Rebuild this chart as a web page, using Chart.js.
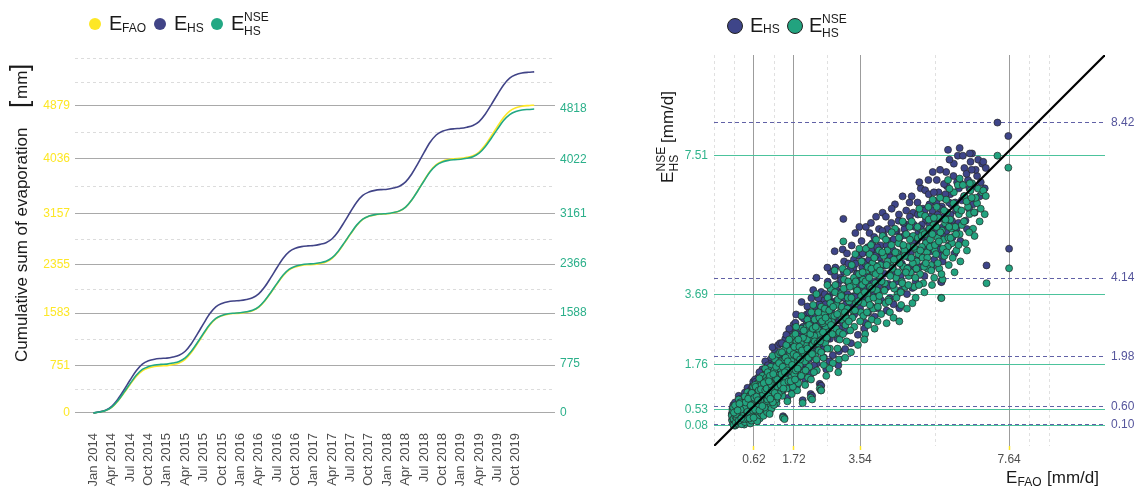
<!DOCTYPE html>
<html>
<head>
<meta charset="utf-8">
<script src="https://cdn.jsdelivr.net/npm/chart.js@4.4.1/dist/chart.umd.min.js"></script>
<style>
  html, body { margin: 0; padding: 0; background: #fff; }
  #fig { position: relative; width: 1141px; height: 489px; overflow: hidden;
         font-family: "Liberation Sans", Arial, sans-serif; color: #1a1a1a; }
  #fig canvas { position: absolute; top: 0; }
  .t { position: absolute; white-space: nowrap; }
  .dot { position: absolute; border-radius: 50%; box-sizing: border-box; }
  .rot { position: absolute; left: 0; top: 0; transform-origin: 0 0; }
</style>
</head>
<body>
<div id="fig">
  <canvas id="cum" width="600" height="489" style="left:0"></canvas>
  <canvas id="sc" width="541" height="489" style="left:600px"></canvas>

  <!-- legend, cumulative panel -->
  <span class="dot" style="left:89px;top:18px;width:12px;height:12px;background:#fde725"></span>
  <span class="t" data-x="109" data-b="30" data-fs="20">E</span>
  <span class="t" data-x="122" data-b="31.7" data-fs="12">FAO</span>
  <span class="dot" style="left:154px;top:18px;width:12px;height:12px;background:#414487"></span>
  <span class="t" data-x="174" data-b="30" data-fs="20">E</span>
  <span class="t" data-x="187" data-b="31.7" data-fs="12">HS</span>
  <span class="dot" style="left:211px;top:18px;width:12px;height:12px;background:#22a884"></span>
  <span class="t" data-x="231" data-b="30" data-fs="20">E</span>
  <span class="t" data-x="244" data-b="20.7" data-fs="12">NSE</span>
  <span class="t" data-x="244" data-b="35" data-fs="12">HS</span>

  <!-- y title, cumulative panel -->
  <div class="rot" style="transform:translate(27px,362px) rotate(-90deg)">
    <span class="t" data-x="0" data-b="0" data-fs="17">Cumulative sum of evaporation</span>
    <span class="t" data-x="254" data-b="1" data-fs="26" style="font-weight:300">[</span>
    <span class="t" data-x="263" data-b="0" data-fs="17">mm</span>
    <span class="t" data-x="291" data-b="1" data-fs="26" style="font-weight:300">]</span>
  </div>

  <!-- legend, scatter panel -->
  <span class="dot" style="left:727px;top:18px;width:16px;height:16px;background:#3e4589;border:1px solid #222"></span>
  <span class="t" data-x="750" data-b="32" data-fs="20">E</span>
  <span class="t" data-x="763" data-b="33.5" data-fs="12">HS</span>
  <span class="dot" style="left:786.5px;top:18px;width:16px;height:16px;background:#22a37f;border:1px solid #222"></span>
  <span class="t" data-x="809" data-b="32" data-fs="20">E</span>
  <span class="t" data-x="822" data-b="23" data-fs="12">NSE</span>
  <span class="t" data-x="822" data-b="37" data-fs="12">HS</span>

  <!-- y title, scatter panel -->
  <div class="rot" style="transform:translate(673px,183px) rotate(-90deg)">
    <span class="t" data-x="0" data-b="0" data-fs="17">E</span>
    <span class="t" data-x="11.5" data-b="-8" data-fs="12">NSE</span>
    <span class="t" data-x="11.5" data-b="5" data-fs="12">HS</span>
    <span class="t" data-x="40" data-b="0" data-fs="17">[mm/d]</span>
  </div>

  <!-- x title, scatter panel -->
  <span class="t" data-x="1006" data-b="483" data-fs="17">E</span>
  <span class="t" data-x="1017.5" data-b="486" data-fs="12">FAO</span>
  <span class="t" data-x="1047" data-b="483" data-fs="17">[mm/d]</span>
</div>

<script>
// ---------- cumulative evaporation [mm], month ends Jan 2014 .. Dec 2019 ----------
const monthIndex = Array.from({ length: 73 }, (_, i) => i);   // months since 1 Jan 2014

const cumFAO = [0,
  15, 38, 90, 188, 315, 451, 578, 668, 713, 736, 746, 751,
  768, 793, 851, 959, 1100, 1250, 1392, 1492, 1541, 1566, 1577, 1583,
  1598, 1622, 1676, 1776, 1907, 2046, 2177, 2270, 2316, 2340, 2350, 2355,
  2371, 2395, 2451, 2556, 2692, 2836, 2973, 3069, 3117, 3141, 3151, 3157,
  3175, 3201, 3262, 3377, 3526, 3684, 3834, 3939, 3992, 4018, 4030, 4036,
  4053, 4078, 4137, 4247, 4390, 4542, 4685, 4786, 4837, 4862, 4873, 4879];

const cumHS = [0,
  17, 44, 104, 218, 365, 522, 670, 774, 827, 853, 864, 870,
  888, 916, 979, 1098, 1253, 1417, 1572, 1682, 1736, 1764, 1776, 1782,
  1799, 1826, 1887, 2000, 2149, 2306, 2454, 2559, 2611, 2637, 2649, 2655,
  2673, 2700, 2762, 2878, 3030, 3190, 3342, 3449, 3502, 3529, 3541, 3547,
  3566, 3595, 3663, 3789, 3953, 4127, 4291, 4407, 4465, 4494, 4506, 4513,
  4531, 4558, 4620, 4737, 4889, 5049, 5201, 5309, 5362, 5389, 5401, 5407];

const cumNSE = [0,
  16, 39, 93, 194, 326, 465, 597, 690, 736, 760, 770, 775,
  791, 816, 873, 978, 1117, 1263, 1401, 1499, 1547, 1572, 1582, 1588,
  1604, 1627, 1681, 1783, 1915, 2055, 2187, 2280, 2327, 2350, 2361, 2366,
  2382, 2406, 2461, 2565, 2700, 2843, 2978, 3074, 3121, 3145, 3155, 3161,
  3178, 3204, 3264, 3376, 3523, 3678, 3824, 3927, 3979, 4005, 4016, 4022,
  4038, 4062, 4118, 4221, 4356, 4500, 4635, 4730, 4778, 4802, 4812, 4818];

// yearly totals shown on the two y axes
const faoYearTicks = [0, 751, 1583, 2355, 3157, 4036, 4879];
const nseYearTicks = [0, 775, 1588, 2366, 3161, 4022, 4818];
const cumMinorBreaks = [375.5, 1167, 1969, 2756, 3596.5, 4457.5, 5254.5, 5630];

const quarterTicks = [0, 3, 6, 9, 12, 15, 18, 21, 24, 27, 30, 33, 36, 39, 42, 45, 48, 51, 54, 57, 60, 63, 66, 69];
const quarterLabels = ['Jan 2014', 'Apr 2014', 'Jul 2014', 'Oct 2014', 'Jan 2015', 'Apr 2015', 'Jul 2015', 'Oct 2015',
  'Jan 2016', 'Apr 2016', 'Jul 2016', 'Oct 2016', 'Jan 2017', 'Apr 2017', 'Jul 2017', 'Oct 2017',
  'Jan 2018', 'Apr 2018', 'Jul 2018', 'Oct 2018', 'Jan 2019', 'Apr 2019', 'Jul 2019', 'Oct 2019'];

// ---------- daily evaporation [mm/d]: FAO reference vs Hargreaves-Samani (raw and NSE-calibrated) ----------
const efao = [
  0.02, 0.05, 0.08, 0.10, 0.12, 0.14, 0.16, 0.18, 0.19, 0.03,
  0.04, 0.07, 0.09, 0.11, 0.13, 0.15, 0.17, 0.18, 0.06, 0.01,
  0.03, 0.06, 0.09, 0.12, 0.14, 0.16, 0.19, 0.08, 0.11, 0.17,
  0.21, 0.23, 0.25, 0.27, 0.29, 0.31, 0.33, 0.35, 0.37, 0.39,
  0.22, 0.24, 0.26, 0.28, 0.30, 0.32, 0.34, 0.36, 0.38, 0.40,
  0.20, 0.25, 0.28, 0.30, 0.33, 0.35, 0.37, 0.24, 0.31, 0.38,
  0.41, 0.43, 0.45, 0.47, 0.50, 0.52, 0.54, 0.56, 0.58, 0.61,
  0.42, 0.44, 0.48, 0.49, 0.51, 0.53, 0.55, 0.57, 0.59, 0.60,
  0.63, 0.66, 0.69, 0.72, 0.75, 0.78, 0.81, 0.84, 0.87, 0.89,
  0.64, 0.67, 0.70, 0.73, 0.76, 0.79, 0.82, 0.85, 0.88, 0.90,
  0.65, 0.68, 0.71, 0.74, 0.77, 0.80, 0.83, 0.86, 0.62, 0.88,
  0.92, 0.96, 1.00, 1.04, 1.08, 1.12, 1.16, 1.20, 1.24, 1.28,
  0.94, 0.98, 1.02, 1.06, 1.10, 1.14, 1.18, 1.22, 1.26, 1.30,
  0.93, 0.97, 1.01, 1.05, 1.09, 1.13, 1.17, 1.21, 1.25, 1.29,
  1.32, 1.36, 1.40, 1.44, 1.48, 1.52, 1.56, 1.60, 1.64, 1.69,
  1.34, 1.38, 1.42, 1.46, 1.50, 1.54, 1.58, 1.62, 1.66, 1.71,
  1.74, 1.79, 1.84, 1.89, 1.94, 1.99, 2.04, 2.09, 2.14, 2.19,
  1.76, 1.81, 1.86, 1.91, 1.96, 2.01, 2.06, 2.11, 2.16, 2.20,
  1.73, 1.78, 1.83, 1.88, 1.93, 1.98, 2.03, 2.08, 2.13, 2.18,
  2.23, 2.29, 2.35, 2.41, 2.47, 2.53, 2.59, 2.65, 2.71, 2.77,
  2.25, 2.31, 2.37, 2.43, 2.49, 2.55, 2.61, 2.67, 2.73, 2.79,
  2.22, 2.28, 2.34, 2.40, 2.46, 2.52, 2.58, 2.64, 2.70, 2.76,
  2.82, 2.89, 2.96, 3.03, 3.10, 3.17, 3.24, 3.31, 3.38, 3.45,
  2.85, 2.92, 2.99, 3.06, 3.13, 3.20, 3.27, 3.34, 3.41, 3.48,
  2.84, 2.94, 3.01, 3.08, 3.15, 3.22, 3.29, 3.36, 3.43, 3.52,
  3.56, 3.62, 3.68, 3.74, 3.80, 3.86, 3.92, 3.98, 4.04, 4.10,
  3.58, 3.64, 3.70, 3.76, 3.82, 3.88, 3.94, 4.00, 4.06, 4.12,
  3.60, 3.66, 3.72, 3.78, 3.84, 3.90, 3.96, 4.02, 4.08, 4.16,
  4.22, 4.29, 4.36, 4.43, 4.50, 4.57, 4.64, 4.71, 4.78, 4.85,
  4.25, 4.32, 4.39, 4.46, 4.53, 4.60, 4.67, 4.74, 4.81, 4.88,
  4.27, 4.34, 4.41, 4.48, 4.55, 4.62, 4.69, 4.76, 4.83, 4.90,
  4.93, 5.00, 5.07, 5.14, 5.21, 5.28, 5.35, 5.42, 5.49, 5.56,
  4.96, 5.03, 5.10, 5.17, 5.24, 5.31, 5.38, 5.45, 5.52, 5.59,
  4.98, 5.05, 5.12, 5.19, 5.26, 5.33, 5.40, 5.47, 5.54, 5.58,
  5.63, 5.70, 5.77, 5.84, 5.91, 5.98, 6.05, 6.12, 6.19, 6.26,
  5.65, 5.72, 5.79, 5.86, 5.93, 6.00, 6.07, 6.14, 6.21, 6.28,
  5.67, 5.74, 5.81, 5.88, 5.95, 6.02, 6.09, 6.16, 6.23, 6.30,
  6.34, 6.41, 6.48, 6.55, 6.62, 6.69, 6.76, 6.83, 6.90, 6.97,
  6.37, 6.44, 6.51, 6.58, 6.65, 6.72, 6.79, 6.86, 6.93, 7.00,
  7.32, 7.62, 7.64, 7.02, 5.78, 6.56, 6.28, 5.96, 2.47, 1.46,
  0.31, 0.34, 0.37, 0.40, 0.43, 0.46, 0.49, 0.52, 0.55, 0.58,
  0.32, 0.36, 0.39, 0.44, 0.46, 0.50, 0.53, 0.56, 0.59, 0.61,
  0.63, 0.67, 0.71, 0.75, 0.79, 0.83, 0.87, 0.91, 0.95, 0.99,
  0.65, 0.69, 0.73, 0.77, 0.81, 0.85, 0.89, 0.93, 0.97, 1.00,
  1.02, 1.06, 1.10, 1.14, 1.18, 1.22, 1.26, 1.30, 1.34, 1.38,
  1.03, 1.07, 1.11, 1.15, 1.19, 1.23, 1.27, 1.31, 1.35, 1.39,
  1.41, 1.45, 1.49, 1.53, 1.57, 1.61, 1.65, 1.69, 1.73, 1.77,
  1.43, 1.47, 1.51, 1.55, 1.59, 1.63, 1.67, 1.71, 1.75, 1.79,
  1.82, 1.87, 1.92, 1.97, 2.02, 2.07, 2.12, 2.17, 2.22, 2.27,
  1.84, 1.89, 1.94, 1.99, 2.04, 2.09, 2.14, 2.19, 2.24, 2.29,
  2.32, 2.37, 2.42, 2.47, 2.52, 2.57, 2.62, 2.67, 2.72, 2.78,
  2.34, 2.39, 2.44, 2.49, 2.54, 2.59, 2.64, 2.69, 2.74, 2.80,
  2.83, 2.88, 2.93, 2.98, 3.04, 3.09, 3.14, 3.19, 3.26, 3.33,
  2.86, 2.91, 2.97, 3.02, 3.07, 3.12, 3.18, 3.23, 3.30, 3.37,
  3.40, 3.46, 3.51, 3.57, 3.63, 3.69, 3.75, 3.81, 3.87, 3.93,
  3.42, 3.49, 3.54, 3.61, 3.67, 3.73, 3.79, 3.85, 3.91, 3.97,
  4.01, 4.07, 4.13, 4.19, 4.24, 4.30, 4.37, 4.44, 4.51, 4.58,
  4.03, 4.09, 4.15, 4.21, 4.27, 4.33, 4.40, 4.47, 4.54, 4.61,
  4.63, 4.70, 4.77, 4.84, 4.91, 4.99, 5.06, 5.13, 5.20, 5.27,
  4.66, 4.73, 4.80, 4.87, 4.95, 5.02, 5.09, 5.16, 5.23, 5.30,
  5.32, 5.39, 5.46, 5.53, 5.60, 5.68, 5.75, 5.82, 5.89, 5.97,
  5.35, 5.43, 5.50, 5.57, 5.64, 5.71, 5.78, 5.85, 5.92, 5.99,
  6.03, 6.11, 6.18, 6.25, 6.33, 6.40, 6.47, 6.54, 6.61, 6.68,
  0.05, 0.10, 0.15, 0.20, 0.25, 0.12, 0.22, 0.27, 0.07, 0.17];

const ehs = [
  0.25, 0.16, 0.39, 0.10, 0.31, 0.50, 0.20, 0.43, 0.28, 0.45,
  0.34, 0.54, 0.22, 0.58, 0.13, 0.37, 0.63, 0.27, 0.10, 0.40,
  0.56, 0.30, 0.47, 0.19, 0.67, 0.45, 0.15, 0.65, 0.37, 0.53,
  0.39, 0.70, 0.17, 0.49, 0.78, 0.31, 0.58, 0.12, 0.45, 0.74,
  0.56, 0.27, 0.65, 0.37, 0.22, 0.85, 0.50, 0.34, 0.95, 0.25,
  0.90, 0.45, 0.13, 0.62, 0.40, 0.76, 0.20, 0.81, 0.53, 0.63,
  0.43, 0.78, 0.28, 1.03, 0.62, 0.16, 0.90, 0.50, 1.18, 0.70,
  0.65, 1.12, 0.37, 0.84, 0.47, 1.06, 0.25, 0.74, 0.38, 1.29,
  0.78, 0.45, 1.23, 0.62, 1.01, 0.31, 1.46, 0.84, 0.54, 1.18,
  1.06, 0.65, 0.34, 1.40, 0.73, 1.12, 0.47, 1.63, 0.95, 0.70,
  1.35, 0.90, 0.22, 1.10, 1.55, 0.67, 0.99, 1.32, 0.56, 0.39,
  1.06, 1.57, 0.67, 1.29, 1.91, 0.95, 1.46, 2.13, 0.78, 1.63,
  1.35, 0.50, 1.79, 1.12, 0.62, 1.74, 1.23, 0.90, 1.96, 1.40,
  1.85, 0.84, 1.51, 0.45, 1.40, 2.24, 0.73, 1.57, 1.18, 2.30,
  1.46, 2.07, 1.01, 1.74, 2.47, 1.23, 1.91, 2.69, 1.57, 2.19,
  2.35, 1.18, 0.34, 2.13, 1.51, 0.84, 2.24, 1.79, 1.06, 2.86,
  2.02, 2.69, 1.40, 2.35, 3.08, 1.74, 2.58, 3.36, 1.91, 2.80,
  2.91, 1.18, 2.19, 2.63, 0.78, 2.30, 2.97, 1.57, 2.47, 3.59,
  1.68, 3.14, 2.47, 1.96, 3.48, 2.13, 1.35, 2.75, 2.24, 0.95,
  2.58, 3.36, 1.79, 2.91, 3.76, 2.19, 3.14, 4.04, 2.47, 3.48,
  3.81, 2.30, 3.08, 1.23, 2.75, 3.53, 1.63, 2.97, 4.32, 2.02,
  0.90, 2.86, 4.15, 2.41, 1.18, 3.25, 2.63, 4.43, 1.85, 3.31,
  2.91, 3.81, 2.13, 3.36, 4.60, 2.69, 3.92, 5.04, 3.14, 4.26,
  4.20, 2.47, 3.59, 4.93, 2.19, 4.04, 3.03, 3.64, 5.38, 2.58,
  4.88, 1.74, 4.15, 5.77, 3.42, 4.54, 2.35, 4.43, 3.87, 5.55,
  3.59, 4.60, 2.91, 4.15, 5.38, 3.36, 4.82, 5.83, 3.92, 5.04,
  5.16, 3.87, 5.55, 3.19, 4.37, 5.10, 3.08, 4.26, 5.49, 3.53,
  4.43, 2.75, 4.88, 3.98, 5.66, 3.70, 4.48, 3.31, 4.71, 5.94,
  4.48, 5.49, 3.59, 4.93, 6.17, 4.15, 5.27, 6.39, 4.37, 5.61,
  5.83, 3.98, 5.16, 3.42, 4.65, 5.72, 3.81, 4.99, 6.00, 4.71,
  3.25, 4.76, 6.05, 4.32, 5.44, 3.31, 4.54, 5.49, 3.70, 6.22,
  4.82, 5.94, 4.04, 5.38, 6.61, 4.48, 5.72, 6.84, 5.04, 6.28,
  6.39, 4.37, 5.16, 6.78, 5.61, 4.20, 5.44, 6.17, 4.43, 5.49,
  3.87, 5.55, 6.22, 4.76, 5.27, 6.56, 4.93, 5.83, 7.06, 4.65,
  5.38, 6.50, 4.04, 5.83, 7.06, 5.04, 6.17, 7.29, 5.49, 6.61,
  6.84, 4.93, 6.11, 5.32, 6.67, 7.40, 5.72, 4.82, 6.78, 6.00,
  5.89, 7.12, 4.60, 6.33, 5.61, 6.45, 5.27, 6.22, 7.51, 5.16,
  6.28, 7.17, 5.49, 6.61, 7.57, 5.94, 6.95, 6.39, 7.29, 6.61,
  7.51, 5.72, 6.84, 7.34, 6.17, 7.12, 7.40, 6.78, 7.34, 7.17,
  8.42, 8.05, 4.95, 4.49, 4.03, 7.57, 7.72, 7.67, 1.18, 0.29,
  0.70, 0.43, 0.99, 0.56, 0.34, 0.76, 0.98, 0.43, 0.67, 0.95,
  0.29, 0.62, 0.81, 0.52, 0.92, 0.31, 0.72, 1.10, 0.56, 0.34,
  0.95, 1.29, 0.70, 1.18, 0.87, 1.35, 1.06, 0.65, 1.46, 0.90,
  0.58, 0.99, 0.87, 0.56, 1.21, 0.70, 1.40, 1.18, 1.23, 1.74,
  1.01, 1.63, 1.35, 0.81, 1.79, 1.29, 1.51, 1.06, 1.85, 1.68,
  1.46, 0.92, 1.18, 1.68, 1.10, 1.91, 0.99, 2.02, 1.35, 2.35,
  1.91, 1.40, 2.19, 1.79, 1.46, 2.41, 2.07, 1.29, 2.52, 1.79,
  1.23, 1.74, 2.58, 2.07, 2.75, 1.46, 1.96, 2.30, 1.51, 2.24,
  1.85, 2.52, 1.63, 2.80, 2.07, 3.14, 2.19, 2.91, 2.30, 1.74,
  2.75, 2.13, 2.41, 3.03, 1.79, 2.47, 3.19, 1.51, 3.08, 2.69,
  3.14, 2.63, 3.42, 2.35, 2.97, 3.70, 2.80, 3.31, 3.87, 2.91,
  2.13, 3.59, 2.69, 3.31, 1.96, 3.42, 2.47, 3.64, 3.19, 3.76,
  3.48, 3.08, 3.98, 2.75, 3.76, 4.32, 3.19, 3.70, 4.37, 3.42,
  4.43, 3.53, 2.97, 4.09, 2.91, 3.59, 4.82, 3.31, 4.04, 4.65,
  3.64, 4.26, 4.76, 4.09, 3.48, 4.54, 4.99, 3.81, 4.32, 5.27,
  4.54, 3.92, 3.31, 4.82, 4.20, 3.59, 4.65, 4.93, 4.04, 4.76,
  4.99, 4.09, 4.54, 5.32, 3.87, 5.16, 4.71, 4.43, 5.44, 4.82,
  3.76, 4.88, 5.44, 4.26, 5.04, 3.92, 5.66, 5.21, 4.04, 5.89,
  5.10, 4.48, 5.32, 4.93, 5.83, 5.10, 4.65, 5.89, 5.49, 6.05,
  4.20, 5.66, 4.82, 4.43, 5.27, 5.61, 4.93, 4.43, 5.94, 4.99,
  6.00, 5.27, 5.61, 6.00, 5.66, 5.10, 6.05, 5.55, 6.45, 5.89,
  5.10, 6.45, 4.88, 6.50, 6.22, 5.77, 4.76, 6.73, 5.44, 6.22,
  5.89, 6.95, 6.00, 5.66, 6.73, 6.39, 7.01, 6.05, 7.12, 6.67,
  0.65, 0.72, 0.34, 0.25, 0.58, 0.45, 0.76, 0.31, 0.49, 0.56];

const ehsNse = [
  0.22, 0.14, 0.35, 0.08, 0.28, 0.45, 0.18, 0.38, 0.25, 0.40,
  0.30, 0.48, 0.20, 0.52, 0.12, 0.33, 0.56, 0.24, 0.09, 0.36,
  0.50, 0.27, 0.42, 0.17, 0.60, 0.40, 0.13, 0.58, 0.33, 0.47,
  0.35, 0.62, 0.15, 0.44, 0.70, 0.28, 0.52, 0.11, 0.40, 0.66,
  0.50, 0.24, 0.58, 0.33, 0.20, 0.76, 0.45, 0.30, 0.85, 0.22,
  0.80, 0.40, 0.12, 0.55, 0.36, 0.68, 0.18, 0.72, 0.47, 0.56,
  0.38, 0.70, 0.25, 0.92, 0.55, 0.14, 0.80, 0.45, 1.05, 0.62,
  0.58, 1.00, 0.33, 0.75, 0.42, 0.95, 0.22, 0.66, 0.34, 1.15,
  0.70, 0.40, 1.10, 0.55, 0.90, 0.28, 1.30, 0.75, 0.48, 1.05,
  0.95, 0.58, 0.30, 1.25, 0.65, 1.00, 0.42, 1.45, 0.85, 0.62,
  1.20, 0.80, 0.20, 0.98, 1.38, 0.60, 0.88, 1.18, 0.50, 0.35,
  0.95, 1.40, 0.60, 1.15, 1.70, 0.85, 1.30, 1.90, 0.70, 1.45,
  1.20, 0.45, 1.60, 1.00, 0.55, 1.55, 1.10, 0.80, 1.75, 1.25,
  1.65, 0.75, 1.35, 0.40, 1.25, 2.00, 0.65, 1.40, 1.05, 2.05,
  1.30, 1.85, 0.90, 1.55, 2.20, 1.10, 1.70, 2.40, 1.40, 1.95,
  2.10, 1.05, 0.30, 1.90, 1.35, 0.75, 2.00, 1.60, 0.95, 2.55,
  1.80, 2.40, 1.25, 2.10, 2.75, 1.55, 2.30, 3.00, 1.70, 2.50,
  2.60, 1.05, 1.95, 2.35, 0.70, 2.05, 2.65, 1.40, 2.20, 3.20,
  1.50, 2.80, 2.20, 1.75, 3.10, 1.90, 1.20, 2.45, 2.00, 0.85,
  2.30, 3.00, 1.60, 2.60, 3.35, 1.95, 2.80, 3.60, 2.20, 3.10,
  3.40, 2.05, 2.75, 1.10, 2.45, 3.15, 1.45, 2.65, 3.85, 1.80,
  0.80, 2.55, 3.70, 2.15, 1.05, 2.90, 2.35, 3.95, 1.65, 2.95,
  2.60, 3.40, 1.90, 3.00, 4.10, 2.40, 3.50, 4.50, 2.80, 3.80,
  3.75, 2.20, 3.20, 4.40, 1.95, 3.60, 2.70, 3.25, 4.80, 2.30,
  4.35, 1.55, 3.70, 5.15, 3.05, 4.05, 2.10, 3.95, 3.45, 4.95,
  3.20, 4.10, 2.60, 3.70, 4.80, 3.00, 4.30, 5.20, 3.50, 4.50,
  4.60, 3.45, 4.95, 2.85, 3.90, 4.55, 2.75, 3.80, 4.90, 3.15,
  3.95, 2.45, 4.35, 3.55, 5.05, 3.30, 4.00, 2.95, 4.20, 5.30,
  4.00, 4.90, 3.20, 4.40, 5.50, 3.70, 4.70, 5.70, 3.90, 5.00,
  5.20, 3.55, 4.60, 3.05, 4.15, 5.10, 3.40, 4.45, 5.35, 4.20,
  2.90, 4.25, 5.40, 3.85, 4.85, 2.95, 4.05, 4.90, 3.30, 5.55,
  4.30, 5.30, 3.60, 4.80, 5.90, 4.00, 5.10, 6.10, 4.50, 5.60,
  5.70, 3.90, 4.60, 6.05, 5.00, 3.75, 4.85, 5.50, 3.95, 4.90,
  3.45, 4.95, 5.55, 4.25, 4.70, 5.85, 4.40, 5.20, 6.30, 4.15,
  4.80, 5.80, 3.60, 5.20, 6.30, 4.50, 5.50, 6.50, 4.90, 5.90,
  6.10, 4.40, 5.45, 4.75, 5.95, 6.60, 5.10, 4.30, 6.05, 5.35,
  5.25, 6.35, 4.10, 5.65, 5.00, 5.75, 4.70, 5.55, 6.70, 4.60,
  5.60, 6.40, 4.90, 5.90, 6.75, 5.30, 6.20, 5.70, 6.50, 5.90,
  6.70, 5.10, 6.10, 6.55, 5.50, 6.35, 6.60, 6.05, 6.55, 6.40,
  7.51, 7.18, 4.41, 4.00, 3.59, 6.75, 6.88, 6.84, 1.05, 0.26,
  0.62, 0.38, 0.88, 0.50, 0.30, 0.68, 0.87, 0.38, 0.60, 0.85,
  0.26, 0.55, 0.72, 0.46, 0.82, 0.28, 0.64, 0.98, 0.50, 0.30,
  0.85, 1.15, 0.62, 1.05, 0.78, 1.20, 0.95, 0.58, 1.30, 0.80,
  0.52, 0.88, 0.78, 0.50, 1.08, 0.62, 1.25, 1.05, 1.10, 1.55,
  0.90, 1.45, 1.20, 0.72, 1.60, 1.15, 1.35, 0.95, 1.65, 1.50,
  1.30, 0.82, 1.05, 1.50, 0.98, 1.70, 0.88, 1.80, 1.20, 2.10,
  1.70, 1.25, 1.95, 1.60, 1.30, 2.15, 1.85, 1.15, 2.25, 1.60,
  1.10, 1.55, 2.30, 1.85, 2.45, 1.30, 1.75, 2.05, 1.35, 2.00,
  1.65, 2.25, 1.45, 2.50, 1.85, 2.80, 1.95, 2.60, 2.05, 1.55,
  2.45, 1.90, 2.15, 2.70, 1.60, 2.20, 2.85, 1.35, 2.75, 2.40,
  2.80, 2.35, 3.05, 2.10, 2.65, 3.30, 2.50, 2.95, 3.45, 2.60,
  1.90, 3.20, 2.40, 2.95, 1.75, 3.05, 2.20, 3.25, 2.85, 3.35,
  3.10, 2.75, 3.55, 2.45, 3.35, 3.85, 2.85, 3.30, 3.90, 3.05,
  3.95, 3.15, 2.65, 3.65, 2.60, 3.20, 4.30, 2.95, 3.60, 4.15,
  3.25, 3.80, 4.25, 3.65, 3.10, 4.05, 4.45, 3.40, 3.85, 4.70,
  4.05, 3.50, 2.95, 4.30, 3.75, 3.20, 4.15, 4.40, 3.60, 4.25,
  4.45, 3.65, 4.05, 4.75, 3.45, 4.60, 4.20, 3.95, 4.85, 4.30,
  3.35, 4.35, 4.85, 3.80, 4.50, 3.50, 5.05, 4.65, 3.60, 5.25,
  4.55, 4.00, 4.75, 4.40, 5.20, 4.55, 4.15, 5.25, 4.90, 5.40,
  3.75, 5.05, 4.30, 3.95, 4.70, 5.00, 4.40, 3.95, 5.30, 4.45,
  5.35, 4.70, 5.00, 5.35, 5.05, 4.55, 5.40, 4.95, 5.75, 5.25,
  4.55, 5.75, 4.35, 5.80, 5.55, 5.15, 4.25, 6.00, 4.85, 5.55,
  5.25, 6.20, 5.35, 5.05, 6.00, 5.70, 6.25, 5.40, 6.35, 5.95,
  0.58, 0.64, 0.30, 0.22, 0.52, 0.40, 0.68, 0.28, 0.44, 0.50];

// summary statistics marked on the scatter axes
const faoStats = [0.62, 1.72, 3.54, 7.64];
const nseStats = [0.08, 0.53, 1.76, 3.69, 7.51];
const hsStats  = [0.10, 0.60, 1.98, 4.14, 8.42];
const scatterMinorBreaks = [-0.48, 0.07, 1.17, 2.63, 5.59, 8.19, 8.74];
const scatterRange = [-0.48, 10.28];

// ---------- shared helpers ----------
const FONT = "'Liberation Sans', Arial, sans-serif";
Chart.defaults.font.family = FONT;
Chart.defaults.animation = false;

const COL = { fao: '#fde725', hs: '#414487', nse: '#22a884' };

// light dashed minor grid, drawn underneath the major grid
const minorGrid = {
  id: 'minorGrid',
  beforeDraw(chart, args, opts) {
    const s = chart.scales[opts.axis];
    const a = chart.chartArea;
    const ctx = chart.ctx;
    ctx.save();
    ctx.strokeStyle = opts.color;
    ctx.lineWidth = 1;
    ctx.setLineDash(opts.dash);
    for (const v of opts.values) {
      const p = Math.round(s.getPixelForValue(v)) + 0.5;
      ctx.beginPath();
      if (s.isHorizontal()) { ctx.moveTo(p, a.top); ctx.lineTo(p, a.bottom); }
      else { ctx.moveTo(a.left, p); ctx.lineTo(a.right, p); }
      ctx.stroke();
    }
    ctx.restore();
  }
};

const setTicks = values => scale => { scale.ticks = values.map(v => ({ value: v })); };

// ---------- cumulative sums over time ----------
const series = (vals) => monthIndex.map((m, i) => ({ x: m, y: vals[i] }));
const lineDs = (label, vals, color, order) => ({
  label, data: series(vals), borderColor: color, backgroundColor: color,
  borderWidth: 1.6, pointRadius: 0, tension: 0.4, cubicInterpolationMode: 'monotone', order
});

new Chart(document.getElementById('cum'), {
  type: 'line',
  data: {
    datasets: [
      lineDs('E_NSE_HS', cumNSE, COL.nse, 1),
      lineDs('E_HS', cumHS, COL.hs, 2),
      lineDs('E_FAO', cumFAO, COL.fao, 3)
    ]
  },
  options: {
    responsive: false,
    layout: { padding: { top: 55, left: 0, right: 0, bottom: 0 } },
    plugins: {
      legend: { display: false },
      tooltip: { enabled: false },
      minorGrid: { axis: 'y', values: cumMinorBreaks, color: '#dcdcdc', dash: [3, 3] }
    },
    scales: {
      x: {
        type: 'linear', min: -3.0, max: 75.4,
        afterBuildTicks: setTicks(quarterTicks),
        afterFit: s => { s.height = 59; },
        grid: { display: false, drawTicks: false },
        border: { display: false },
        ticks: {
          autoSkip: false, minRotation: 90, maxRotation: 90, padding: 3,
          color: '#4d4d4d', font: { size: 13 },
          callback: (v, i) => quarterLabels[i]
        }
      },
      y: {
        type: 'linear', position: 'left', min: -270, max: 5675,
        afterBuildTicks: setTicks(faoYearTicks),
        afterFit: s => { s.width = 75; },
        grid: { color: '#a9a9a9', lineWidth: 1, drawTicks: false },
        border: { display: false },
        ticks: { autoSkip: false, padding: 5, color: COL.fao, font: { size: 12 }, callback: v => String(v) }
      },
      y2: {
        type: 'linear', position: 'right', min: -270, max: 5675,
        afterBuildTicks: setTicks(nseYearTicks),
        afterFit: s => { s.width = 45; },
        grid: { drawOnChartArea: false, drawTicks: false },
        border: { display: false },
        ticks: { autoSkip: false, padding: 5, color: '#2bb08a', font: { size: 12 }, callback: v => String(v) }
      }
    }
  },
  plugins: [minorGrid]
});

// ---------- daily scatter ----------
const pts = (ys) => efao.map((x, i) => ({ x, y: ys[i] }));

new Chart(document.getElementById('sc'), {
  type: 'scatter',
  data: {
    datasets: [
      { label: '1:1', data: scatterRange.map(v => ({ x: v, y: v })), showLine: true,
        borderColor: '#000', borderWidth: 2.2, pointRadius: 0, order: 1 },
      { label: 'E_NSE_HS', data: pts(ehsNse), backgroundColor: '#22a37f', borderColor: '#262626',
        borderWidth: 0.7, pointRadius: 3.5, order: 2 },
      { label: 'E_HS', data: pts(ehs), backgroundColor: '#3e4589', borderColor: '#262626',
        borderWidth: 0.7, pointRadius: 3.5, order: 3 }
    ]
  },
  options: {
    responsive: false,
    layout: { padding: { top: 55, left: 0, right: 0, bottom: 0 } },
    plugins: {
      legend: { display: false },
      tooltip: { enabled: false },
      minorGrid: { axis: 'x', values: scatterMinorBreaks, color: '#e0e0e0', dash: [3, 3] }
    },
    scales: {
      x: {
        type: 'linear', min: scatterRange[0], max: scatterRange[1],
        afterBuildTicks: setTicks(faoStats),
        afterFit: s => { s.height = 43; },
        grid: { color: '#9c9c9c', lineWidth: 1, drawTicks: true, tickLength: 4, tickColor: COL.fao, tickWidth: 1.5 },
        border: { display: false },
        ticks: { autoSkip: false, maxRotation: 0, padding: 2, color: '#4d4d4d', font: { size: 12 },
                 callback: v => v.toFixed(2) }
      },
      y: {
        type: 'linear', position: 'left', min: scatterRange[0], max: scatterRange[1],
        afterBuildTicks: setTicks(nseStats),
        afterFit: s => { s.width = 114; },
        grid: { color: '#4cc39c', lineWidth: 1, drawTicks: false },
        border: { display: false },
        ticks: { autoSkip: false, padding: 6, color: '#2fb38b', font: { size: 12 }, callback: v => v.toFixed(2) }
      },
      y2: {
        type: 'linear', position: 'right', min: scatterRange[0], max: scatterRange[1],
        afterBuildTicks: setTicks(hsStats),
        afterFit: s => { s.width = 36; },
        grid: { color: '#6161a6', lineWidth: 1, drawTicks: false, drawOnChartArea: true },
        border: { display: false, dash: [4, 3] },
        ticks: { autoSkip: false, padding: 6, color: '#55559c', font: { size: 12 }, callback: v => v.toFixed(2) }
      }
    }
  },
  plugins: [minorGrid]
});

// ---------- place rich-text labels by baseline ----------
document.querySelectorAll('.t[data-b]').forEach(el => {
  const fs = +el.dataset.fs;
  el.style.fontSize = fs + 'px';
  el.style.lineHeight = fs + 'px';
  el.style.left = el.dataset.x + 'px';
  el.style.top = (+el.dataset.b - 0.8465 * fs) + 'px';
});
</script>
</body>
</html>
